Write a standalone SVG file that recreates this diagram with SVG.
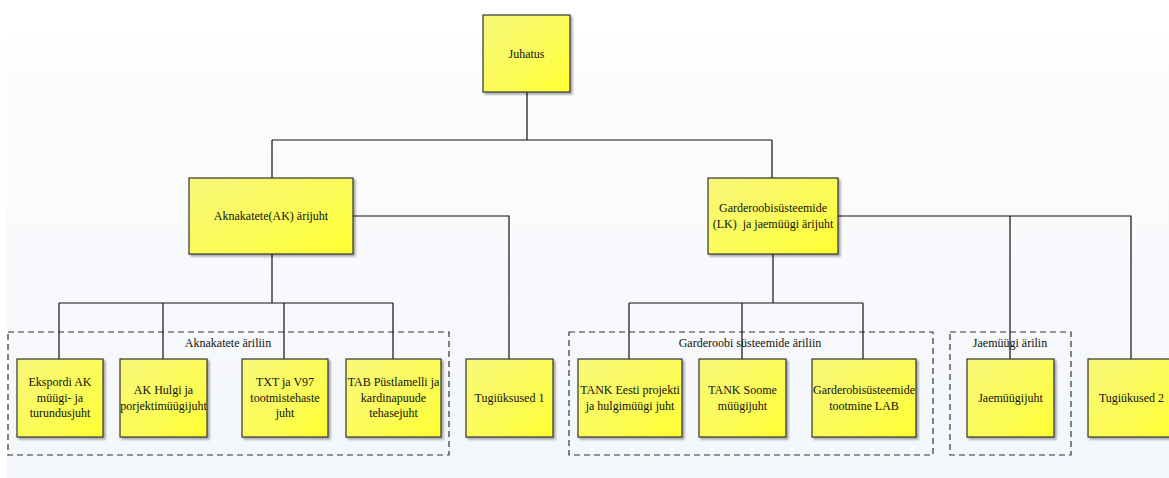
<svg xmlns="http://www.w3.org/2000/svg" width="1169" height="478" viewBox="0 0 1169 478">
  <defs>
    <linearGradient id="bg" x1="0" y1="0" x2="0" y2="1">
      <stop offset="0" stop-color="#fdfdfe"/>
      <stop offset="1" stop-color="#f3f6fa"/>
    </linearGradient>
    <linearGradient id="boxFill" x1="0" y1="0" x2="1" y2="1">
      <stop offset="0" stop-color="#f7f77a"/>
      <stop offset="0.6" stop-color="#fcfc55"/>
      <stop offset="1" stop-color="#ffff30"/>
    </linearGradient>
    <filter id="shadow" x="-10%" y="-10%" width="130%" height="130%">
      <feGaussianBlur in="SourceAlpha" stdDeviation="1.2"/>
      <feOffset dx="2" dy="2" result="b"/>
      <feComponentTransfer><feFuncA type="linear" slope="0.35"/></feComponentTransfer>
      <feMerge><feMergeNode/><feMergeNode in="SourceGraphic"/></feMerge>
    </filter>
  </defs>
  <style>
    .node rect { fill: url(#boxFill); stroke: #333; stroke-width: 1.2; filter: url(#shadow); }
    .lbl { font-size: 12px; fill: #111; text-anchor: middle; dominant-baseline: central; }
    .conn path { fill: none; stroke: #111; stroke-width: 1.2; }
    .grp rect { fill: none; stroke: #333; stroke-width: 1.2; stroke-dasharray: 6 4; }
  </style>

  <!-- background panel -->
  <rect x="0" y="0" width="1169" height="478" fill="#ffffff"/>
  <rect x="7" y="34" width="1162" height="444" fill="url(#bg)"/>

  <g font-family="Liberation Serif">
  <!-- business line groupings -->
  <g class="grp" id="grp-aknakatete">
    <rect x="8" y="332" width="441" height="123"/>
    <text class="lbl" x="228" y="343">Aknakatete äriliin</text>
  </g>
  <g class="grp" id="grp-garderoobi">
    <rect x="569" y="332" width="364" height="123"/>
    <text class="lbl" x="750" y="343">Garderoobi süsteemide äriliin</text>
  </g>
  <g class="grp" id="grp-jaemyygi">
    <rect x="950" y="332" width="121" height="123"/>
    <text class="lbl" x="1010" y="343">Jaemüügi ärilin</text>
  </g>

  <!-- connectors -->
  <g class="conn" id="connectors">
    <path d="M527 92 V140 M272 140 H772 M272 140 V178 M772 140 V178"/>
    <path d="M272 254 V303 M59 303 H393 M59 303 V359 M163 303 V359 M284 303 V359 M393 303 V359"/>
    <path d="M353 216 H509 V359"/>
    <path d="M773 254 V303 M629 303 H863 M629 303 V359 M742 303 V359 M863 303 V359"/>
    <path d="M838 216 H1131 V359 M1010 216 V359"/>
  </g>

  <!-- nodes -->
  <g class="node" id="juhatus">
    <rect x="483" y="15" width="87" height="77"/>
    <text class="lbl" x="526.5" y="53.5">Juhatus</text>
  </g>
  <g class="node" id="ak-arijuht">
    <rect x="189" y="178" width="164" height="76"/>
    <text class="lbl" x="271" y="216">Aknakatete(AK) ärijuht</text>
  </g>
  <g class="node" id="lk-arijuht">
    <rect x="708" y="178" width="130" height="76"/>
    <text class="lbl" x="773" y="208">Garderoobisüsteemide</text>
    <text class="lbl" x="773" y="224" xml:space="preserve">(LK)  ja jaemüügi ärijuht</text>
  </g>

  <g class="node" id="ekspordi">
    <rect x="17" y="359" width="86" height="78"/>
    <text class="lbl" x="60" y="382">Ekspordi AK</text>
    <text class="lbl" x="60" y="398">müügi- ja</text>
    <text class="lbl" x="60" y="413">turundusjuht</text>
  </g>
  <g class="node" id="ak-hulgi">
    <rect x="120" y="359" width="87" height="78"/>
    <text class="lbl" x="163.5" y="390">AK Hulgi ja</text>
    <text class="lbl" x="163.5" y="406">porjektimüügijuht</text>
  </g>
  <g class="node" id="txt-v97">
    <rect x="242" y="359" width="86" height="78"/>
    <text class="lbl" x="285" y="382">TXT ja V97</text>
    <text class="lbl" x="285" y="398">tootmistehaste</text>
    <text class="lbl" x="285" y="413">juht</text>
  </g>
  <g class="node" id="tab">
    <rect x="346" y="359" width="95" height="78"/>
    <text class="lbl" x="393.5" y="382">TAB Püstlamelli ja</text>
    <text class="lbl" x="393.5" y="398">kardinapuude</text>
    <text class="lbl" x="393.5" y="413">tehasejuht</text>
  </g>
  <g class="node" id="tugi1">
    <rect x="466" y="359" width="87" height="78"/>
    <text class="lbl" x="509.5" y="398">Tugiüksused 1</text>
  </g>

  <g class="node" id="tank-eesti">
    <rect x="578" y="359" width="104" height="78"/>
    <text class="lbl" x="630" y="390">TANK Eesti projekti</text>
    <text class="lbl" x="630" y="406">ja hulgimüügi juht</text>
  </g>
  <g class="node" id="tank-soome">
    <rect x="699" y="359" width="87" height="78"/>
    <text class="lbl" x="742.5" y="390">TANK Soome</text>
    <text class="lbl" x="742.5" y="406">müügijuht</text>
  </g>
  <g class="node" id="lab">
    <rect x="812" y="359" width="104" height="78"/>
    <text class="lbl" x="864" y="390">Garderobisüsteemide</text>
    <text class="lbl" x="864" y="406">tootmine LAB</text>
  </g>
  <g class="node" id="jaemyygijuht">
    <rect x="967" y="359" width="87" height="78"/>
    <text class="lbl" x="1010.5" y="398">Jaemüügijuht</text>
  </g>
  <g class="node" id="tugi2">
    <rect x="1088" y="359" width="87" height="78"/>
    <text class="lbl" x="1131.5" y="398">Tugiükused 2</text>
  </g>
  </g>
</svg>
